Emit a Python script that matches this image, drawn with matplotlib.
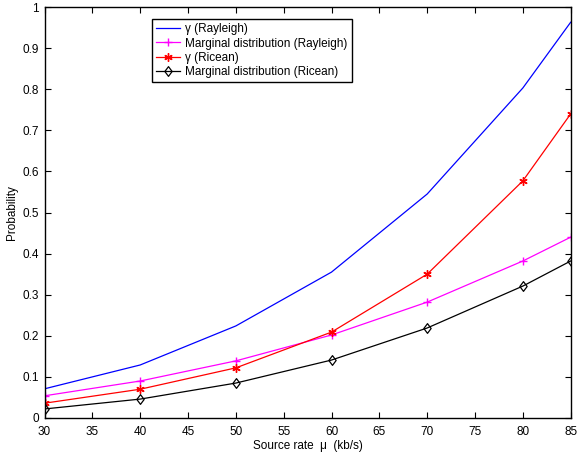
import matplotlib
matplotlib.use("Agg")
import matplotlib.pyplot as plt
from matplotlib.ticker import FuncFormatter
from matplotlib.path import Path

plt.rcParams['font.family'] = ['Liberation Sans', 'DejaVu Sans']

x = [30, 40, 50, 60, 70, 80, 85]
gamma_rayleigh = [0.071, 0.129, 0.224, 0.355, 0.545, 0.803, 0.963]
marg_rayleigh = [0.054, 0.090, 0.139, 0.202, 0.282, 0.382, 0.440]
gamma_ricean = [0.036, 0.070, 0.122, 0.209, 0.350, 0.577, 0.740]
marg_ricean = [0.022, 0.046, 0.085, 0.141, 0.219, 0.321, 0.382]

xticks = [30, 35, 40, 45, 50, 55, 60, 65, 70, 75, 80, 85]
yticks = [0, 0.1, 0.2, 0.3, 0.4, 0.5, 0.6, 0.7, 0.8, 0.9, 1]

diamond = Path([(0, 1), (0.75, 0), (0, -1), (-0.75, 0), (0, 1)],
               [Path.MOVETO, Path.LINETO, Path.LINETO, Path.LINETO, Path.CLOSEPOLY])

fig = plt.figure(figsize=(5.77, 4.54), dpi=100)
ax = fig.add_axes([44.5/577, 36/454, (570.7-44.5)/577, (418-7)/454])

ax.plot(x, gamma_rayleigh, color='blue', lw=0.9, label='γ (Rayleigh)')
ax.plot(x, marg_rayleigh, color='magenta', lw=0.9, marker='+', ms=6, mew=1.0,
        label='Marginal distribution (Rayleigh)')
ax.plot(x, gamma_ricean, color='red', lw=0.9, marker=(6, 2, 0), ms=6, mew=1.0,
        label='γ (Ricean)')
ax.plot(x, marg_ricean, color='black', lw=0.9, marker=diamond, ms=7, mfc='none', mew=0.9,
        label='Marginal distribution (Ricean)')

ax.set_xlim(30, 85)
ax.set_ylim(0, 1)
ax.set_xticks(xticks)
ax.set_yticks(yticks)
ax.yaxis.set_major_formatter(FuncFormatter(lambda v, p: ('%g' % v)))
ax.tick_params(direction='in', top=True, right=True, length=4, width=0.8,
               labelsize=8.5)
ax.tick_params(axis='x', pad=6)
ax.tick_params(axis='y', pad=4)
for s in ax.spines.values():
    s.set_linewidth(1.0)

ax.set_xlabel('Source rate  μ  (kb/s)', fontsize=8.5, labelpad=1)
ax.set_ylabel('Probability', fontsize=8.5, labelpad=3)

leg = ax.legend(loc='upper left', bbox_to_anchor=(0.204, 0.97), fontsize=8.5,
                frameon=True, fancybox=False, edgecolor='black', framealpha=1,
                handlelength=2.0, borderpad=0.35, labelspacing=0.18, handletextpad=0.5,
                borderaxespad=0)
leg.get_frame().set_linewidth(1.0)

fig.savefig('out.png', dpi=100)
